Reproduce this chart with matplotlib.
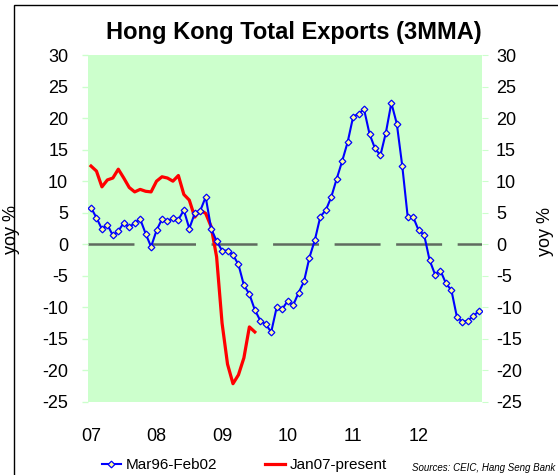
import matplotlib
matplotlib.use("Agg")
import matplotlib.pyplot as plt
from matplotlib.patches import Rectangle

plt.rcParams['font.family'] = ['Liberation Sans', 'DejaVu Sans']
plt.rcParams['lines.scale_dashes'] = False
plt.rcParams['axes.unicode_minus'] = False

# Data (monthly, 3-month moving average, yoy %)
blue_label = "Mar96-Feb02"
blue_values = [5.8, 4.2, 2.4, 3.1, 1.4, 2.1, 3.4, 2.7, 3.4, 4.0, 1.7, -0.4,
               2.2, 4.0, 3.7, 4.1, 3.9, 5.4, 2.5, 4.9, 5.3, 7.5, 2.5, 0.5,
               -1.0, -1.0, -1.7, -3.2, -6.5, -7.9, -10.4, -12.1, -12.7, -13.9, -10.0, -10.3,
               -9.0, -9.7, -7.7, -5.9, -2.1, 0.7, 4.4, 5.4, 7.5, 10.4, 13.2, 16.2,
               20.2, 20.7, 21.4, 17.5, 15.2, 14.1, 17.7, 22.4, 19.1, 12.4, 4.3, 4.3,
               2.2, 1.5, -2.5, -4.8, -4.2, -6.2, -7.3, -11.5, -12.3, -12.1, -11.4, -10.6]
red_label = "Jan07-present"
red_values = [12.4, 11.6, 9.1, 10.2, 10.5, 11.9, 10.5, 9.0, 8.3, 8.7, 8.4, 8.3,
              10.0, 10.7, 10.5, 10.0, 10.9, 7.9, 7.0, 4.3, 5.4, 4.9, 2.8, -2.0,
              -12.5, -19.0, -22.1, -20.7, -18.0, -13.1, -13.9]
year_ticks = [0, 12, 24, 36, 48, 60]
year_labels = ["07", "08", "09", "10", "11", "12"]
y_ticks = list(range(-25, 31, 5))
title = "Hong Kong Total Exports (3MMA)"
source = "Sources: CEIC, Hang Seng Bank"

W, H = 558, 475
fig = plt.figure(figsize=(W / 100, H / 100), dpi=100)
fig.patch.set_facecolor('white')

ax = fig.add_axes([88 / W, 1 - 402 / H, (482 - 88) / W, (402 - 55) / H])
ax.set_facecolor('#ccffcc')
for s in ax.spines.values():
    s.set_visible(False)

ax.axhline(0, color='#5f6b5f', lw=1.8, dashes=[33.1, 11.2], zorder=1)

bx = list(range(len(blue_values)))
rx = list(range(len(red_values)))
lb, = ax.plot(bx, blue_values, color='#0000ff', lw=1.5, marker='D', ms=3.4,
              mfc='#ffff99', mec='#0000ff', mew=0.9, zorder=3, label=blue_label)
lr, = ax.plot(rx, red_values, color='#ff0000', lw=2.3, zorder=2, label=red_label,
              solid_joinstyle='round')

ax.set_xlim(-0.55, 71.6)
ax.set_ylim(-25, 30)
ax.set_xticks(year_ticks)
ax.set_xticklabels(year_labels)
ax.set_yticks(y_ticks)
ax.tick_params(axis='x', length=0, pad=19, labelsize=13)
ax.tick_params(axis='y', direction='out', length=4.3, width=1,
               color='#ccffcc', labelsize=13, pad=10, right=False, labelright=False)

ax2 = ax.secondary_yaxis('right')
ax2.set_yticks(y_ticks)
ax2.tick_params(axis='y', length=4.3, color='#ccffcc', labelsize=13, pad=5.8)
ax2.spines['right'].set_visible(False)

fig.text(294 / W, 1 - 32 / H, title, ha='center', va='center',
         fontsize=17, fontweight='bold')
fig.text(12 / W, 1 - 230 / H, "yoy %", rotation=90, ha='center', va='center', fontsize=13)
fig.text(546 / W, 1 - 232 / H, "yoy %", rotation=90, ha='center', va='center', fontsize=13)

leg = fig.legend(handles=[lb, lr], loc='center', bbox_to_anchor=(244 / W, 1 - 465 / H),
                 ncol=2, frameon=False, fontsize=11, handlelength=1.3,
                 handletextpad=0.3, columnspacing=3.1, borderpad=0)
fig.text(555 / W, 1 - 468 / H, source, ha='right', va='center', fontsize=7, style='italic')

fig.add_artist(Rectangle((13.5 / W, -0.1), 1.2, 1 - 5 / H + 0.1, transform=fig.transFigure,
                         fill=False, edgecolor='black', lw=1.0))

fig.savefig('out.png', dpi=100)
